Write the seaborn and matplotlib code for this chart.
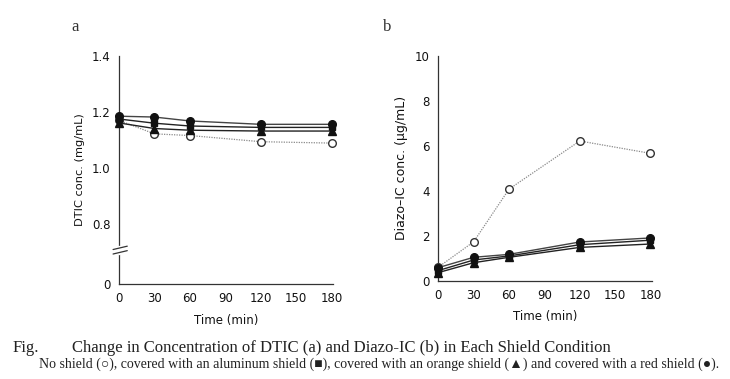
import numpy as np
import pandas as pd
import matplotlib
matplotlib.use("Agg")
import matplotlib.pyplot as plt
import seaborn as sns

sns.set_theme(style="white")
plt.rcParams['font.family'] = ['DejaVu Sans']

time_min = [0, 30, 60, 120, 180]
conditions = ["No shield", "Aluminum shield", "Orange shield", "Red shield"]

# Panel a: DTIC conc. (mg/mL)
dtic_none = [1.170, 1.122, 1.116, 1.094, 1.089]
dtic_alum = [1.175, 1.160, 1.150, 1.145, 1.145]
dtic_orange = [1.161, 1.141, 1.135, 1.132, 1.132]
dtic_red = [1.185, 1.182, 1.168, 1.156, 1.156]

# Panel b: Diazo-IC conc. (ug/mL)
diazo_none = [0.60, 1.73, 4.07, 6.21, 5.66]
diazo_alum = [0.45, 0.92, 1.10, 1.60, 1.80]
diazo_orange = [0.36, 0.80, 1.04, 1.48, 1.63]
diazo_red = [0.58, 1.04, 1.17, 1.72, 1.90]

xticks = [0, 30, 60, 90, 120, 150, 180]
a_yticks = [0.8, 1.0, 1.2, 1.4]
b_yticks = [0, 2, 4, 6, 8, 10]

styles = {
    "No shield": dict(marker="o", mfc="white", mec="#333333", color="#8a8a8a", ls=(0, (1, 1)), lw=0.9, ms=5.5),
    "Aluminum shield": dict(marker="s", mfc="#111111", mec="#111111", color="#222222", ls="-", lw=1.0, ms=4.5),
    "Orange shield": dict(marker="^", mfc="#111111", mec="#111111", color="#222222", ls="-", lw=1.0, ms=5.5),
    "Red shield": dict(marker="o", mfc="#111111", mec="#111111", color="#444444", ls="-", lw=1.0, ms=5.5),
}

def long_df(series):
    rows = []
    for cond, vals in zip(conditions, series):
        for t, v in zip(time_min, vals):
            rows.append({"Time": t, "Conc": v, "Condition": cond})
    return pd.DataFrame(rows)

df_a = long_df([dtic_none, dtic_alum, dtic_orange, dtic_red])
df_b = long_df([diazo_none, diazo_alum, diazo_orange, diazo_red])

fig = plt.figure(figsize=(7.30, 3.79), dpi=100)
ax_a = fig.add_axes([0.163, 0.2507, 0.293, 0.6016])
ax_b = fig.add_axes([0.6004, 0.2594, 0.2923, 0.5936])

def draw(ax, df):
    for cond in conditions:
        st = styles[cond]
        sub = df[df["Condition"] == cond]
        sns.lineplot(data=sub, x="Time", y="Conc", ax=ax, color=st["color"],
                     linestyle=st["ls"], linewidth=st["lw"], marker=st["marker"],
                     markersize=st["ms"], markerfacecolor=st["mfc"],
                     markeredgecolor=st["mec"], markeredgewidth=1.0,
                     clip_on=False, legend=False, zorder=3)
    for s in ["top", "right"]:
        ax.spines[s].set_visible(False)
    for s in ["left", "bottom"]:
        ax.spines[s].set_color("#333333")
        ax.spines[s].set_linewidth(0.9)
    ax.set_xlim(0, 181)
    ax.set_xticks(xticks)
    ax.set_xticklabels([str(t) for t in xticks])
    ax.tick_params(direction="in", length=3, width=0.8, colors="#333333",
                   labelsize=8.5, labelcolor="#111111", pad=6)
    ax.set_xlabel("Time (min)", fontsize=8.5, color="#111111", labelpad=6)

draw(ax_a, df_a)
draw(ax_b, df_b)

# Panel a: broken axis, bottom labelled 0
a_zero = 0.586
ax_a.set_ylim(a_zero, 1.4)
ax_a.set_yticks([a_zero] + a_yticks)
ax_a.set_yticklabels(["0"] + [f"{v:.1f}" for v in a_yticks])
ax_a.set_ylabel("DTIC conc. (mg/mL)", fontsize=8.2, color="#111111", labelpad=5)
# break marks
brk = 0.707
ax_a.plot([0, 0], [brk - 0.012, brk + 0.012], color="white", lw=2.5, clip_on=False, zorder=4)
for dy in (-0.008, 0.008):
    ax_a.plot([-5, 7], [brk + dy - 0.006, brk + dy + 0.006], color="#333333",
              lw=0.9, clip_on=False, zorder=5)

ax_b.set_ylim(0, 10)
ax_b.set_yticks(b_yticks)
ax_b.set_yticklabels([str(v) for v in b_yticks])
ax_b.set_ylabel("Diazo\u2013IC conc. (\u03bcg/mL)", fontsize=9, color="#111111", labelpad=5)

serif = ["Liberation Serif", "DejaVu Serif"]
fig.text(71 / 730, 1 - 27 / 379, "a", fontsize=12, family=serif, color="#333333", va="center")
fig.text(383 / 730, 1 - 27 / 379, "b", fontsize=12, family=serif, color="#333333", va="center")

fig.text(13 / 730, 1 - 348 / 379, "Fig.", fontsize=12, family=serif, color="#222222", va="center")
fig.text(72 / 730, 1 - 348 / 379,
         "Change in Concentration of DTIC (a) and Diazo-IC (b) in Each Shield Condition",
         fontsize=12, family=serif, color="#222222", va="center")
fig.text(39 / 730, 1 - 364 / 379,
         "No shield (\u25cb), covered with an aluminum shield (\u25a0), covered with an orange shield (\u25b2) and covered with a red shield (\u25cf).",
         fontsize=10, family=["Liberation Serif", "DejaVu Sans"], color="#222222", va="center")

fig.savefig("out.png", dpi=100, facecolor="white")
